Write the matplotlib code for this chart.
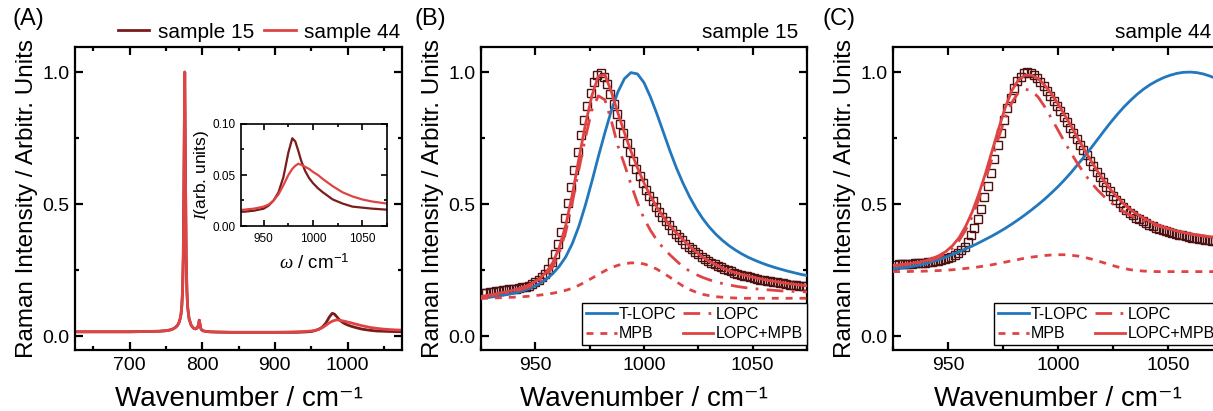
import numpy as np
import matplotlib
matplotlib.use('Agg')
import matplotlib.pyplot as plt
from matplotlib.ticker import MultipleLocator

plt.rcParams['font.family'] = ['Liberation Sans', 'DejaVu Sans']
plt.rcParams['mathtext.fontset'] = 'custom'
plt.rcParams['mathtext.rm'] = 'Liberation Sans'
plt.rcParams['mathtext.it'] = 'Liberation Serif:italic'

# ---- DATA ----
# (A) full spectra
a_x = [625, 650, 675, 700, 720, 740, 750, 756, 760, 763, 766, 768, 770, 771, 772, 773,
       774, 775, 776, 777, 778, 779, 780, 782, 785, 788, 791, 793, 795, 796, 797, 798,
       799, 801, 804, 810, 820, 840, 870, 900, 920, 930, 940, 950, 955, 960, 965, 970,
       975, 979, 982, 985, 988, 992, 996, 1000, 1005, 1010, 1020, 1030, 1040, 1050,
       1060, 1075]
a_s44 = [0.016, 0.016, 0.016, 0.016, 0.017, 0.018, 0.020, 0.023, 0.027, 0.032, 0.040,
         0.050, 0.068, 0.085, 0.115, 0.17, 0.30, 0.62, 1.0, 0.62, 0.30, 0.17, 0.11,
         0.065, 0.040, 0.030, 0.027, 0.030, 0.042, 0.060, 0.045, 0.030, 0.024, 0.020,
         0.018, 0.016, 0.015, 0.014, 0.014, 0.014, 0.015, 0.016, 0.017, 0.019, 0.021,
         0.025, 0.031, 0.040, 0.050, 0.056, 0.059, 0.061, 0.060, 0.058, 0.056, 0.053,
         0.050, 0.046, 0.039, 0.033, 0.029, 0.026, 0.024, 0.022]
a_s15 = [0.016, 0.016, 0.016, 0.016, 0.017, 0.018, 0.020, 0.023, 0.027, 0.032, 0.040,
         0.050, 0.068, 0.085, 0.115, 0.17, 0.30, 0.62, 1.0, 0.62, 0.30, 0.17, 0.11,
         0.065, 0.040, 0.030, 0.027, 0.030, 0.042, 0.060, 0.045, 0.030, 0.024, 0.020,
         0.018, 0.016, 0.015, 0.014, 0.014, 0.014, 0.014, 0.014, 0.015, 0.017, 0.020,
         0.025, 0.033, 0.048, 0.072, 0.086, 0.083, 0.074, 0.064, 0.054, 0.047, 0.042,
         0.037, 0.033, 0.026, 0.022, 0.019, 0.018, 0.017, 0.016]

# measured points (open squares), from 926 cm-1 in steps of 1.5
sq_start, sq_step = 926, 1.5
b_data = [0.163, 0.164, 0.166, 0.168, 0.170, 0.172, 0.174, 0.175, 0.177, 0.178,
          0.180, 0.182, 0.184, 0.187, 0.191, 0.197, 0.203, 0.212, 0.224, 0.236,
          0.255, 0.279, 0.310, 0.348, 0.395, 0.447, 0.505, 0.566, 0.630, 0.697,
          0.760, 0.818, 0.870, 0.920, 0.962, 0.990, 0.998, 0.982, 0.955, 0.918,
          0.880, 0.842, 0.805, 0.768, 0.730, 0.696, 0.662, 0.632, 0.605, 0.578,
          0.555, 0.532, 0.510, 0.489, 0.470, 0.452, 0.435, 0.419, 0.403, 0.388,
          0.375, 0.362, 0.350, 0.339, 0.329, 0.319, 0.310, 0.301, 0.293, 0.285,
          0.278, 0.272, 0.266, 0.260, 0.255, 0.249, 0.245, 0.240, 0.236, 0.232,
          0.229, 0.226, 0.223, 0.220, 0.217, 0.214, 0.212, 0.209, 0.207, 0.205,
          0.203, 0.201, 0.199, 0.197, 0.195, 0.194, 0.192, 0.191, 0.189, 0.188]
c_data = [0.270, 0.271, 0.271, 0.272, 0.273, 0.274, 0.275, 0.276, 0.277, 0.278,
          0.280, 0.282, 0.284, 0.286, 0.289, 0.292, 0.296, 0.300, 0.306, 0.314,
          0.325, 0.339, 0.358, 0.381, 0.408, 0.443, 0.482, 0.525, 0.570, 0.619,
          0.670, 0.722, 0.770, 0.819, 0.863, 0.903, 0.940, 0.965, 0.983, 0.995,
          1.000, 0.997, 0.989, 0.977, 0.962, 0.946, 0.928, 0.909, 0.890, 0.871,
          0.851, 0.831, 0.810, 0.789, 0.768, 0.746, 0.725, 0.704, 0.684, 0.663,
          0.643, 0.623, 0.603, 0.584, 0.566, 0.549, 0.532, 0.517, 0.503, 0.490,
          0.478, 0.467, 0.458, 0.449, 0.442, 0.435, 0.428, 0.422, 0.417, 0.411,
          0.406, 0.402, 0.398, 0.394, 0.390, 0.387, 0.384, 0.381, 0.378, 0.376,
          0.373, 0.371, 0.369, 0.367, 0.365, 0.363, 0.361, 0.360, 0.358, 0.357]

# fitted curves, 925..1075 step 3
fit_x = np.arange(925, 1076, 3)
b_tlopc = [0.143, 0.146, 0.149, 0.153, 0.157, 0.162, 0.168, 0.176, 0.186, 0.199, 0.215,
           0.236, 0.264, 0.300, 0.350, 0.415, 0.495, 0.585, 0.680, 0.770, 0.855, 0.925,
           0.975, 0.998, 0.993, 0.960, 0.905, 0.840, 0.770, 0.700, 0.635, 0.578, 0.527,
           0.483, 0.445, 0.413, 0.386, 0.363, 0.343, 0.326, 0.311, 0.298, 0.287, 0.277,
           0.268, 0.260, 0.253, 0.246, 0.240, 0.234, 0.229]
b_lopc = [0.148, 0.151, 0.155, 0.159, 0.164, 0.169, 0.175, 0.183, 0.193, 0.207, 0.228,
          0.262, 0.315, 0.395, 0.505, 0.630, 0.750, 0.855, 0.910, 0.895, 0.815, 0.720,
          0.650, 0.575, 0.505, 0.445, 0.400, 0.362, 0.332, 0.307, 0.284, 0.262, 0.246,
          0.233, 0.222, 0.213, 0.205, 0.199, 0.194, 0.189, 0.185, 0.182, 0.179, 0.177,
          0.175, 0.173, 0.171, 0.170, 0.169, 0.168, 0.167]
b_mpb = [0.143, 0.143, 0.144, 0.145, 0.146, 0.147, 0.148, 0.150, 0.152, 0.155, 0.158,
         0.162, 0.167, 0.173, 0.181, 0.192, 0.205, 0.219, 0.233, 0.247, 0.259, 0.268,
         0.274, 0.277, 0.277, 0.273, 0.265, 0.253, 0.238, 0.222, 0.205, 0.189, 0.176,
         0.166, 0.158, 0.153, 0.149, 0.147, 0.145, 0.144, 0.143, 0.143, 0.143, 0.143,
         0.143, 0.143, 0.143, 0.143, 0.143, 0.143, 0.143]
b_sum = [0.150, 0.154, 0.158, 0.163, 0.168, 0.174, 0.181, 0.190, 0.202, 0.218, 0.242,
         0.278, 0.335, 0.420, 0.535, 0.670, 0.800, 0.910, 0.985, 0.990, 0.925, 0.845,
         0.770, 0.700, 0.637, 0.580, 0.530, 0.487, 0.450, 0.418, 0.390, 0.364, 0.340,
         0.318, 0.299, 0.283, 0.270, 0.258, 0.248, 0.240, 0.233, 0.227, 0.221, 0.216,
         0.211, 0.207, 0.203, 0.199, 0.196, 0.193, 0.190]

c_tlopc = [0.254, 0.257, 0.260, 0.264, 0.269, 0.275, 0.282, 0.290, 0.299, 0.309, 0.319,
           0.330, 0.341, 0.353, 0.366, 0.379, 0.393, 0.408, 0.424, 0.441, 0.459, 0.478,
           0.498, 0.519, 0.542, 0.566, 0.592, 0.620, 0.650, 0.680, 0.712, 0.745, 0.778,
           0.810, 0.840, 0.868, 0.893, 0.916, 0.936, 0.953, 0.967, 0.979, 0.988, 0.995,
           0.999, 1.000, 0.998, 0.993, 0.985, 0.975, 0.963]
c_lopc = [0.266, 0.268, 0.270, 0.273, 0.277, 0.282, 0.289, 0.299, 0.313, 0.333, 0.361,
          0.401, 0.453, 0.518, 0.592, 0.672, 0.752, 0.827, 0.885, 0.922, 0.935, 0.930,
          0.905, 0.868, 0.825, 0.780, 0.735, 0.692, 0.652, 0.615, 0.582, 0.553, 0.528,
          0.506, 0.487, 0.471, 0.457, 0.445, 0.435, 0.426, 0.418, 0.411, 0.404, 0.398,
          0.392, 0.387, 0.383, 0.379, 0.376, 0.373, 0.370]
c_mpb = [0.244, 0.244, 0.244, 0.245, 0.245, 0.246, 0.247, 0.248, 0.249, 0.251, 0.253,
         0.256, 0.259, 0.262, 0.266, 0.270, 0.275, 0.280, 0.285, 0.290, 0.295, 0.299,
         0.302, 0.305, 0.307, 0.308, 0.308, 0.306, 0.303, 0.298, 0.292, 0.285, 0.277,
         0.269, 0.262, 0.256, 0.251, 0.248, 0.246, 0.245, 0.244, 0.244, 0.244, 0.244,
         0.244, 0.244, 0.244, 0.244, 0.244, 0.244, 0.244]
c_sum = [0.268, 0.270, 0.273, 0.276, 0.280, 0.286, 0.294, 0.305, 0.320, 0.342, 0.372,
         0.415, 0.470, 0.538, 0.615, 0.700, 0.785, 0.865, 0.930, 0.970, 0.988, 0.988,
         0.975, 0.950, 0.918, 0.880, 0.838, 0.795, 0.750, 0.706, 0.664, 0.624, 0.587,
         0.554, 0.525, 0.500, 0.479, 0.461, 0.446, 0.433, 0.422, 0.413, 0.405, 0.398,
         0.392, 0.387, 0.383, 0.379, 0.376, 0.373, 0.370]

DARK = '#7a1c1c'
SQ = '#4d1111'
RED = '#df4444'
BLUE = '#2277bd'
XLABEL = 'Wavenumber / cm\u207b\u00b9'

W, H = 1213, 411
fig = plt.figure(figsize=(W / 100, H / 100), dpi=100)


def px_axes(left, right, top, bottom):
    return fig.add_axes([left / W, (H - bottom) / H, (right - left) / W, (bottom - top) / H])


def style(ax, xmaj, xmin, ymaj=0.5, ymin=0.25, lsize=14, sw=1.6):
    ax.xaxis.set_major_locator(MultipleLocator(xmaj))
    ax.xaxis.set_minor_locator(MultipleLocator(xmin))
    ax.yaxis.set_major_locator(MultipleLocator(ymaj))
    ax.yaxis.set_minor_locator(MultipleLocator(ymin))
    ax.tick_params(which='both', direction='in', top=True, right=True, labelsize=lsize,
                   width=sw)
    ax.tick_params(which='major', length=6)
    ax.tick_params(which='minor', length=3)
    ax.tick_params(axis='x', pad=5)
    ax.tick_params(axis='y', pad=4)
    for s in ax.spines.values():
        s.set_linewidth(sw)


def main_labels(ax, w):
    ax.set_xlabel(XLABEL, fontsize=20)
    ax.xaxis.set_label_coords(0.5, -0.118)
    ax.xaxis.label.set_va('top')
    ax.set_ylabel('Raman Intensity / Arbitr. Units', fontsize=17.5)
    ax.yaxis.set_label_coords(-37 / w, 0.5)
    ax.set_ylim(-0.053, 1.095)
    ax.set_yticks([0.0, 0.5, 1.0])
    ax.set_yticklabels(['0.0', '0.5', '1.0'])


# ---- (A) ----
axA = px_axes(75, 402, 47, 350)
axA.plot(a_x, a_s15, color=DARK, lw=2)
axA.plot(a_x, a_s44, color=RED, lw=2)
axA.set_xlim(625, 1075)
style(axA, 100, 50)
main_labels(axA, 327)
axA.legend(['sample 15', 'sample 44'], loc='lower right', bbox_to_anchor=(1.02, 0.99),
           ncol=2, frameon=False, fontsize=15, handlelength=1.5, handletextpad=0.4,
           columnspacing=0.5, borderaxespad=0)
fig.text(12 / W, 1 - 8 / H, '(A)', fontsize=17, va='top', ha='left')

ins = px_axes(241, 387, 124, 226)
ins.plot(a_x, a_s15, color=DARK, lw=1.6)
ins.plot(a_x, a_s44, color=RED, lw=1.6)
ins.set_xlim(927, 1075)
ins.set_ylim(0, 0.1)
style(ins, 50, 25, 0.05, 0.025, lsize=8.5, sw=1.2)
ins.tick_params(which='major', length=4)
ins.tick_params(which='minor', length=2)
ins.set_yticks([0.0, 0.05, 0.10])
ins.set_yticklabels(['0.00', '0.05', '0.10'])
ins.set_ylabel('$I$(arb. units)', fontsize=12.5, labelpad=1)
ins.set_xlabel('$\\omega$ / cm$^{-1}$', fontsize=13.5, labelpad=6)

# ---- (B) and (C) ----
panels = [
    ('(B)', 'sample 15', (481, 807), b_data, b_tlopc, b_lopc, b_mpb, b_sum, 415, 798, 1.0),
    ('(C)', 'sample 44', (893, 1223), c_data, c_tlopc, c_lopc, c_mpb, c_sum, 822, 1211, 0.988),
]
for tag, name, (l, r), dat, tl, lo, mp, sm, tagx, namex, legx in panels:
    ax = px_axes(l, r, 47, 350)
    sq_x = sq_start + sq_step * np.arange(len(dat))
    ax.plot(sq_x, dat, ls='none', marker='s', ms=5.5, mfc='none', mec=SQ, mew=1.0, zorder=2)
    h1, = ax.plot(fit_x, tl, color=BLUE, lw=2, zorder=3)
    h2, = ax.plot(fit_x, lo, color=RED, lw=2, ls=(0, (6, 3, 1, 3)), zorder=3)
    h3, = ax.plot(fit_x, mp, color=RED, lw=2, ls=(0, (2.5, 2.5)), zorder=3)
    h4, = ax.plot(fit_x, sm, color=RED, lw=2, zorder=3)
    ax.set_xlim(925, 1075)
    style(ax, 50, 25)
    main_labels(ax, r - l)
    leg = ax.legend([h1, h3, h2, h4], ['T-LOPC', 'MPB', 'LOPC', 'LOPC+MPB'],
                    loc='lower right', bbox_to_anchor=(legx, 0.015),
                    ncol=2, fontsize=11.5, handlelength=1.9, handletextpad=0.15,
                    columnspacing=0.4, borderpad=0.25, labelspacing=0.3,
                    fancybox=False, framealpha=1, edgecolor='black', borderaxespad=0)
    leg.get_frame().set_linewidth(1.0)
    fig.text(tagx / W, 1 - 8 / H, tag, fontsize=17, va='top', ha='left')
    fig.text(namex / W, 1 - 42 / H, name, fontsize=15, va='bottom', ha='right')

fig.savefig('out.png', dpi=100)
